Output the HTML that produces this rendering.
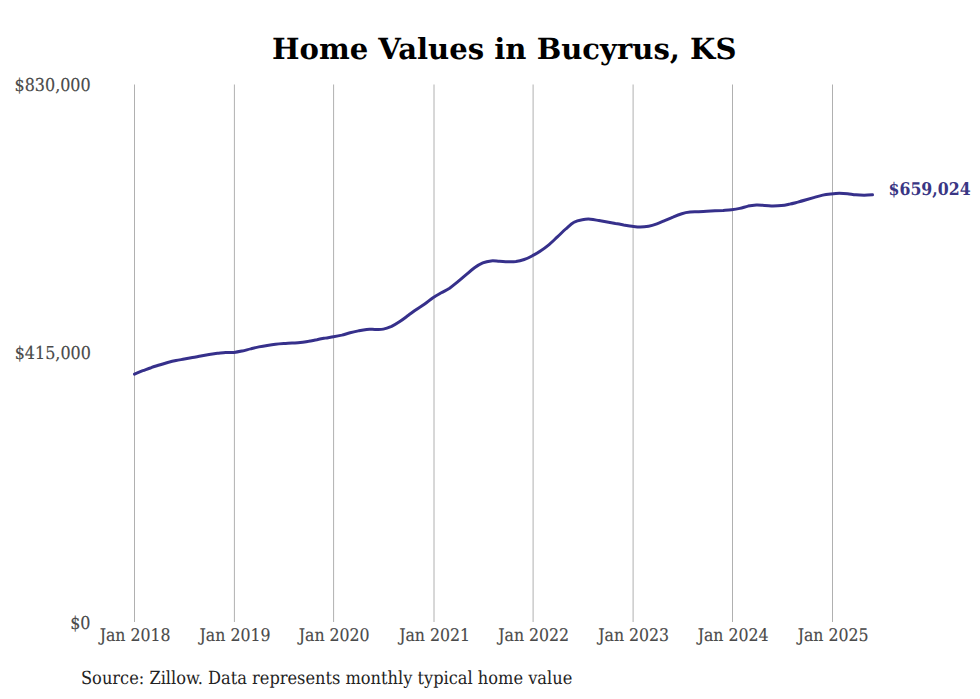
<!DOCTYPE html>
<html><head><meta charset="utf-8"><style>
html,body{margin:0;padding:0;background:#fff;}
body{width:980px;height:699px;overflow:hidden;position:relative;}
svg{position:absolute;left:0;top:0;}
text{font-family:"DejaVu Serif","Liberation Serif",serif;text-rendering:geometricPrecision;}
.c text,text.c{font-family:"DejaVu Serif Condensed","DejaVu Serif","Liberation Serif",serif;font-stretch:condensed;}
</style></head><body>
<svg width="980" height="699" viewBox="0 0 980 699">
<text x="272" y="59" font-weight="bold" font-size="29.1" fill="#000">Home Values in Bucyrus, KS</text>
<g stroke="#b0b0b0" stroke-width="1">
<line x1="134.5" y1="84.5" x2="134.5" y2="622"/>
<line x1="234.4" y1="84.5" x2="234.4" y2="622"/>
<line x1="333.6" y1="84.5" x2="333.6" y2="622"/>
<line x1="434.0" y1="84.5" x2="434.0" y2="622"/>
<line x1="533.1" y1="84.5" x2="533.1" y2="622"/>
<line x1="633.1" y1="84.5" x2="633.1" y2="622"/>
<line x1="732.5" y1="84.5" x2="732.5" y2="622"/>
<line x1="832.5" y1="84.5" x2="832.5" y2="622"/>
</g>
<g class="c" font-size="17.75" fill="#4a4a4a" stroke="#4a4a4a" stroke-width="0.15" text-anchor="end">
<text x="90.7" y="91.4">$830,000</text>
<text x="90.9" y="358.7">$415,000</text>
<text x="90.5" y="628.7">$0</text>
</g>
<g class="c" font-size="17.5" fill="#4a4a4a" stroke="#4a4a4a" stroke-width="0.15" text-anchor="middle">
<text x="135.1" y="640.5">Jan 2018</text>
<text x="235.0" y="640.5">Jan 2019</text>
<text x="334.2" y="640.5">Jan 2020</text>
<text x="434.6" y="640.5">Jan 2021</text>
<text x="533.7" y="640.5">Jan 2022</text>
<text x="633.7" y="640.5">Jan 2023</text>
<text x="733.1" y="640.5">Jan 2024</text>
<text x="833.1" y="640.5">Jan 2025</text>
</g>
<path d="M134.5,374.1 C135.9,373.5 140.0,371.8 142.8,370.7 C145.6,369.7 148.3,368.6 151.1,367.7 C153.8,366.7 156.6,365.9 159.4,365.0 C162.1,364.1 164.9,363.3 167.7,362.5 C170.4,361.8 173.2,361.1 176.0,360.5 C178.7,359.9 181.5,359.6 184.3,359.1 C187.0,358.6 189.8,358.1 192.5,357.6 C195.3,357.1 198.1,356.5 200.8,356.0 C203.6,355.5 206.4,355.0 209.1,354.5 C211.9,354.1 214.7,353.7 217.4,353.3 C220.2,353.0 222.9,352.6 225.7,352.4 C228.5,352.3 231.2,352.6 234.0,352.4 C236.8,352.2 239.5,351.6 242.3,351.0 C245.1,350.5 247.8,349.5 250.6,348.9 C253.4,348.2 256.1,347.5 258.9,346.9 C261.6,346.3 264.4,345.8 267.2,345.4 C269.9,345.0 272.7,344.6 275.5,344.3 C278.2,344.0 281.0,343.8 283.8,343.6 C286.5,343.4 289.3,343.3 292.1,343.1 C294.8,342.9 297.6,342.8 300.3,342.5 C303.1,342.2 305.9,341.7 308.6,341.3 C311.4,340.8 314.2,340.2 316.9,339.7 C319.7,339.1 322.5,338.6 325.2,338.1 C328.0,337.6 330.7,337.2 333.5,336.7 C336.3,336.2 339.0,335.7 341.8,335.1 C344.6,334.4 347.3,333.5 350.1,332.8 C352.9,332.1 355.6,331.5 358.4,330.9 C361.2,330.3 363.9,329.7 366.7,329.4 C369.4,329.2 372.2,329.4 375.0,329.4 C377.7,329.4 380.5,329.7 383.3,329.1 C386.0,328.6 388.8,327.5 391.6,326.3 C394.3,325.0 397.1,323.3 399.8,321.5 C402.6,319.7 405.4,317.5 408.1,315.5 C410.9,313.5 413.7,311.4 416.4,309.5 C419.2,307.6 422.0,306.0 424.7,304.1 C427.5,302.1 430.3,299.6 433.0,297.7 C435.8,295.9 438.5,294.4 441.3,292.8 C444.1,291.2 446.8,290.0 449.6,288.2 C452.4,286.3 455.1,284.0 457.9,281.7 C460.7,279.5 463.4,277.0 466.2,274.7 C468.9,272.4 471.7,269.8 474.5,267.8 C477.2,265.8 480.0,264.1 482.8,262.9 C485.5,261.8 488.3,261.2 491.1,260.9 C493.8,260.6 496.6,261.1 499.4,261.2 C502.1,261.3 504.9,261.7 507.6,261.7 C510.4,261.7 513.2,261.8 515.9,261.5 C518.7,261.1 521.5,260.4 524.2,259.5 C527.0,258.5 529.8,257.2 532.5,255.7 C535.3,254.3 538.1,252.7 540.8,250.8 C543.6,249.0 546.3,246.9 549.1,244.6 C551.9,242.2 554.6,239.5 557.4,236.9 C560.2,234.3 562.9,231.5 565.7,229.0 C568.5,226.6 571.2,223.8 574.0,222.3 C576.7,220.7 579.5,220.2 582.3,219.7 C585.0,219.2 587.8,219.0 590.6,219.2 C593.3,219.4 596.1,220.1 598.9,220.6 C601.6,221.1 604.4,221.6 607.2,222.1 C609.9,222.6 612.7,223.1 615.4,223.6 C618.2,224.0 621.0,224.5 623.7,225.0 C626.5,225.4 629.3,225.9 632.0,226.2 C634.8,226.6 637.6,227.1 640.3,227.1 C643.1,227.1 645.8,226.8 648.6,226.3 C651.4,225.8 654.1,224.9 656.9,223.9 C659.7,222.9 662.4,221.6 665.2,220.4 C668.0,219.2 670.7,217.9 673.5,216.8 C676.3,215.6 679.0,214.5 681.8,213.7 C684.5,212.9 687.3,212.4 690.1,212.1 C692.8,211.8 695.6,211.9 698.4,211.7 C701.1,211.6 703.9,211.5 706.7,211.3 C709.4,211.1 712.2,210.9 714.9,210.7 C717.7,210.6 720.5,210.5 723.2,210.4 C726.0,210.2 728.8,210.1 731.5,209.7 C734.3,209.4 737.1,209.0 739.8,208.4 C742.6,207.8 745.4,206.7 748.1,206.1 C750.9,205.6 753.6,205.3 756.4,205.1 C759.2,205.0 761.9,205.3 764.7,205.4 C767.5,205.5 770.2,205.8 773.0,205.9 C775.8,205.9 778.5,205.9 781.3,205.6 C784.1,205.3 786.8,204.7 789.6,204.1 C792.3,203.6 795.1,202.8 797.9,202.1 C800.6,201.4 803.4,200.6 806.2,199.8 C808.9,199.0 811.7,198.2 814.5,197.4 C817.2,196.6 820.0,195.7 822.7,195.1 C825.5,194.5 828.3,194.2 831.0,193.9 C833.8,193.6 836.6,193.3 839.3,193.3 C842.1,193.3 844.9,193.5 847.6,193.7 C850.4,194.0 853.2,194.6 855.9,194.8 C858.7,195.1 861.4,195.2 864.2,195.2 C867.0,195.2 871.1,194.9 872.5,194.8" fill="none" stroke="#36308b" stroke-width="3" stroke-linecap="round" stroke-linejoin="round"/>
<text class="c" x="888.5" y="194.5" font-size="17.5" font-weight="bold" fill="#3a3684">$659,024</text>
<text class="c" x="81" y="684" font-size="18.05" fill="#222">Source: Zillow. Data represents monthly typical home value</text>
</svg>
</body></html>
